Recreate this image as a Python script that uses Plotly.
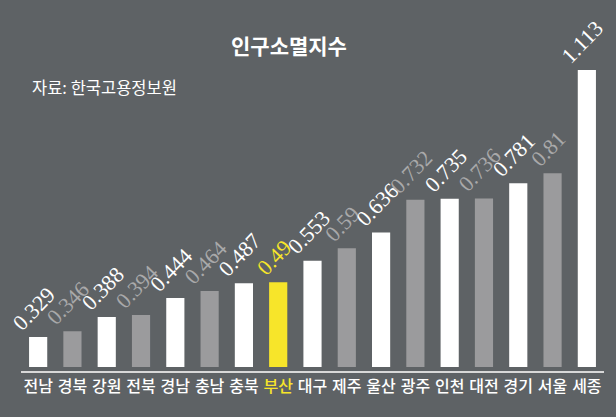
import plotly.graph_objects as go

regions = ["전남", "경북", "강원", "전북", "경남", "충남", "충북", "부산", "대구",
           "제주", "울산", "광주", "인천", "대전", "경기", "서울", "세종"]
values = [0.329, 0.346, 0.388, 0.394, 0.444, 0.464, 0.487, 0.49, 0.553,
          0.59, 0.636, 0.732, 0.735, 0.736, 0.781, 0.81, 1.113]
value_labels = ["0.329", "0.346", "0.388", "0.394", "0.444", "0.464", "0.487", "0.49", "0.553",
                "0.59", "0.636", "0.732", "0.735", "0.736", "0.781", "0.81", "1.113"]
highlight = "부산"

WHITE = "#ffffff"
GRAY_BAR = "#9b9b9d"
GRAY_TXT = "#a9a9aa"
YELLOW = "#f7e52a"
BG = "#5e6265"

bar_colors, text_colors, tick_text = [], [], []
for i, r in enumerate(regions):
    if r == highlight:
        bar_colors.append(YELLOW); text_colors.append(YELLOW)
        tick_text.append(f'<span style="color:{YELLOW}">{r}</span>')
    elif i % 2 == 0:
        bar_colors.append(WHITE); text_colors.append(WHITE)
        tick_text.append(r)
    else:
        bar_colors.append(GRAY_BAR); text_colors.append(GRAY_TXT)
        tick_text.append(r)

fig = go.Figure(go.Bar(
    x=regions, y=values,
    marker=dict(color=bar_colors, line=dict(width=0)),
    hoverinfo="skip",
))

annotations = []
for r, v, lab, c in zip(regions, values, value_labels, text_colors):
    annotations.append(dict(
        x=r, y=v, xref="x", yref="y", text=lab, textangle=-46,
        xanchor="center", yanchor="bottom", xshift=-4, yshift=-1, showarrow=False,
        font=dict(family="Liberation Serif", size=22, color=c),
    ))

annotations += [
    dict(text="인구소멸지수", xref="paper", yref="paper", x=(289-21)/583, y=1,
         yshift=(50-45), xanchor="center", yanchor="middle", showarrow=False,
         font=dict(size=21, color=WHITE, family="Noto Sans CJK KR", weight=700)),
    dict(text="자료: 한국고용정보원", xref="paper", yref="paper", x=(30-21)/583, y=1,
         yshift=(50-87), xanchor="left", yanchor="middle", showarrow=False,
         font=dict(size=16.5, color=WHITE, family="Noto Sans CJK KR")),
]

fig.update_layout(
    width=616, height=417,
    margin=dict(l=21, r=12, t=50, b=50),
    paper_bgcolor=BG, plot_bgcolor=BG,
    bargap=0.47, showlegend=False,
    font=dict(family="Noto Sans CJK KR, Noto Sans, sans-serif", color=WHITE),
    xaxis=dict(tickmode="array", tickvals=regions, ticktext=tick_text, automargin=False,
               range=[-0.5, len(regions) - 0.5], autorange=False,
               tickfont=dict(size=16, color=WHITE, family="Noto Sans CJK KR", weight=500),
               showline=False, showgrid=False, zeroline=False, ticks="", ticklabelstandoff=8),
    yaxis=dict(range=[0.241, 1.172], autorange=False, visible=False, showgrid=False,
               zeroline=False, automargin=False),
    shapes=[dict(type="line", xref="paper", yref="paper", x0=0, x1=1,
                 y0=-5/317, y1=-5/317, line=dict(color="#d8d8d8", width=2))],
    annotations=annotations,
)

fig.write_html("out.html")
